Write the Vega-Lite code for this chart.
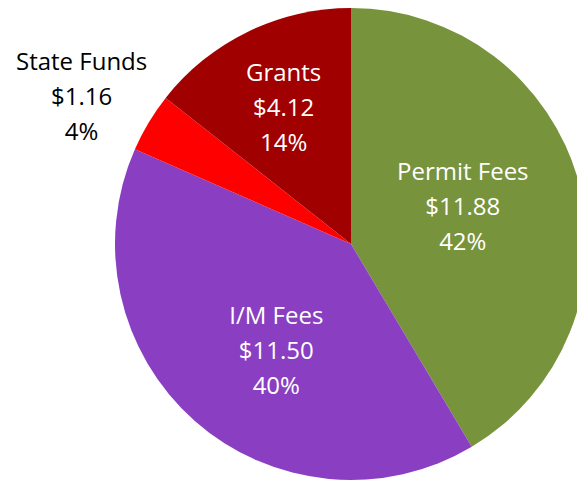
{
  "$schema": "https://vega.github.io/schema/vega-lite/v6.json",
  "width": 702,
  "height": 488,
  "padding": 0,
  "autosize": {"type": "none"},
  "background": "white",
  "view": {"stroke": null},
  "data": {"values": [
    {"category": "Permit Fees", "value": 11.88, "rank": 1, "label": "Permit Fees\n$11.88\n42%"},
    {"category": "I/M Fees", "value": 11.50, "rank": 2, "label": "I/M Fees\n$11.50\n40%"},
    {"category": "State Funds", "value": 1.16, "rank": 3, "label": "State Funds\n$1.16\n4%"},
    {"category": "Grants", "value": 4.12, "rank": 4, "label": "Grants\n$4.12\n14%"}
  ]},
  "encoding": {
    "theta": {"field": "value", "type": "quantitative", "stack": true},
    "order": {"field": "rank", "type": "quantitative"}
  },
  "layer": [
    {
      "mark": {"type": "arc", "outerRadius": 236},
      "encoding": {
        "color": {
          "field": "category", "type": "nominal", "legend": null,
          "scale": {"domain": ["Permit Fees", "I/M Fees", "State Funds", "Grants"],
                    "range": ["#77933C", "#8A3FC2", "#FF0000", "#A00000"]}
        }
      }
    },
    {
      "mark": {"type": "text", "radius": 118, "dx": -2, "dy": -40, "font": "Open Sans", "fontSize": 24, "lineHeight": 35, "lineBreak": "\n", "align": "center", "baseline": "middle", "color": "white"},
      "encoding": {"text": {"condition": {"test": "datum.category == 'Permit Fees'", "field": "label"}, "value": ""}}
    },
    {
      "mark": {"type": "text", "radius": 128, "dx": 10, "dy": -23, "font": "Open Sans", "fontSize": 24, "lineHeight": 35, "lineBreak": "\n", "align": "center", "baseline": "middle", "color": "white"},
      "encoding": {"text": {"condition": {"test": "datum.category == 'I/M Fees'", "field": "label"}, "value": ""}}
    },
    {
      "mark": {"type": "text", "radius": 306, "dx": -7, "dy": -24, "font": "Open Sans", "fontSize": 24, "lineHeight": 35, "lineBreak": "\n", "align": "center", "baseline": "middle", "color": "black"},
      "encoding": {"text": {"condition": {"test": "datum.category == 'State Funds'", "field": "label"}, "value": ""}}
    },
    {
      "mark": {"type": "text", "radius": 152, "dx": -1, "dy": -33, "font": "Open Sans", "fontSize": 24, "lineHeight": 35, "lineBreak": "\n", "align": "center", "baseline": "middle", "color": "white"},
      "encoding": {"text": {"condition": {"test": "datum.category == 'Grants'", "field": "label"}, "value": ""}}
    }
  ]
}
